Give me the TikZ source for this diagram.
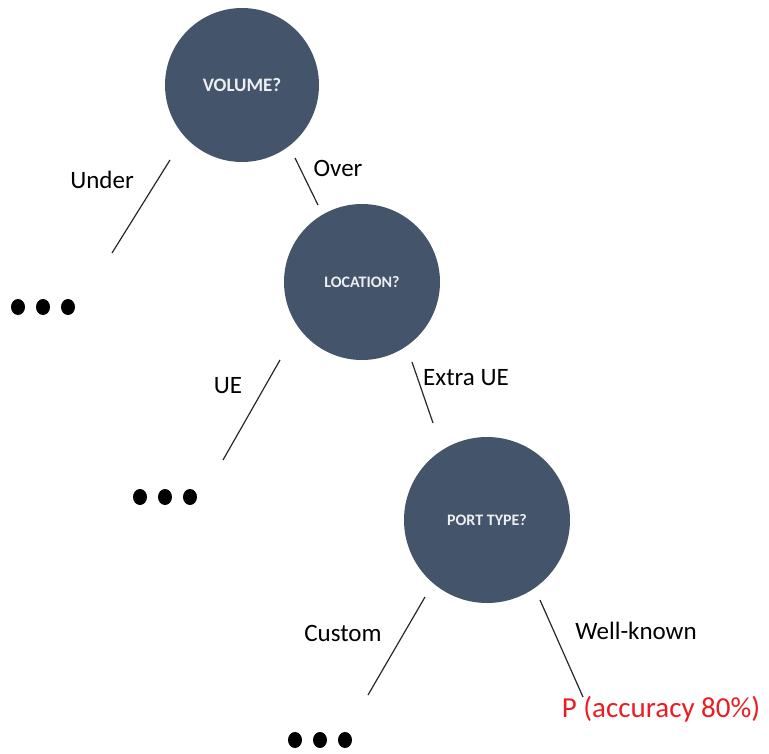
\documentclass[tikz,border=0pt]{standalone}
\usepackage{fontspec}
\usetikzlibrary{shapes.geometric}
\setmainfont{Carlito}
\definecolor{nodefill}{RGB}{68,84,106}
\definecolor{nodetext}{RGB}{236,238,240}
\definecolor{edgecol}{RGB}{40,40,40}
\definecolor{resultred}{RGB}{235,28,36}
\begin{document}
\begin{tikzpicture}[x=1pt,y=-1pt,
  question/.style={circle,fill=nodefill,text=nodetext,inner sep=0pt,font=\bfseries\fontsize{16}{19}\selectfont},
  branch/.style={draw=edgecol,line width=1.2pt},
  blabel/.style={font=\fontsize{25}{30}\selectfont,text=black},
  dot/.style={ellipse,fill=black,inner sep=0pt,minimum width=14pt,minimum height=16pt},
  result/.style={font=\fontsize{29}{34}\selectfont,text=resultred}]
\useasboundingbox (0,0) rectangle (769,753);

% decision nodes
\node[question,minimum size=154pt,font=\bfseries\fontsize{19}{22}\selectfont] (vol) at (242,85) {VOLUME?};
\node[question,minimum size=156pt] (loc) at (362,282) {LOCATION?};
\node[question,minimum size=166pt] (port) at (487,520) {PORT TYPE?};

% branch end points
\coordinate (u1) at (170,160); \coordinate (u2) at (112,253);
\coordinate (o1) at (295,158); \coordinate (o2) at (318,205);
\coordinate (e1) at (280,360); \coordinate (e2) at (223,460);
\coordinate (x1) at (412,362); \coordinate (x2) at (433,423);
\coordinate (c1) at (425,597); \coordinate (c2) at (368,695);
\coordinate (w1) at (540,600); \coordinate (w2) at (583,697);

\draw[branch] (u1) -- (u2);
\draw[branch] (o1) -- (o2);
\draw[branch] (e1) -- (e2);
\draw[branch] (x1) -- (x2);
\draw[branch] (c1) -- (c2);
\draw[branch] (w1) -- (w2);

% branch labels
\node[blabel] (lunder) at (102,180) {Under};
\node[blabel] (lover) at (338,168) {Over};
\node[blabel] (lue) at (228,386) {UE};
\node[blabel] (lextra) at (466,378) {Extra UE};
\node[blabel] (lcustom) at (343,633) {Custom};
\node[blabel] (lwell) at (636,631) {Well-known};

% elided subtrees
\node[dot] (d11) at (18,307) {}; \node[dot] (d12) at (43,307) {}; \node[dot] (d13) at (68,307) {};
\node[dot] (d21) at (140,497) {}; \node[dot] (d22) at (165,497) {}; \node[dot] (d23) at (190,497) {};
\node[dot] (d31) at (295,740) {}; \node[dot] (d32) at (320,740) {}; \node[dot] (d33) at (345,740) {};

% leaf result
\node[result] (res) at (661,709) {P (accuracy 80\%)};
\end{tikzpicture}
\end{document}
